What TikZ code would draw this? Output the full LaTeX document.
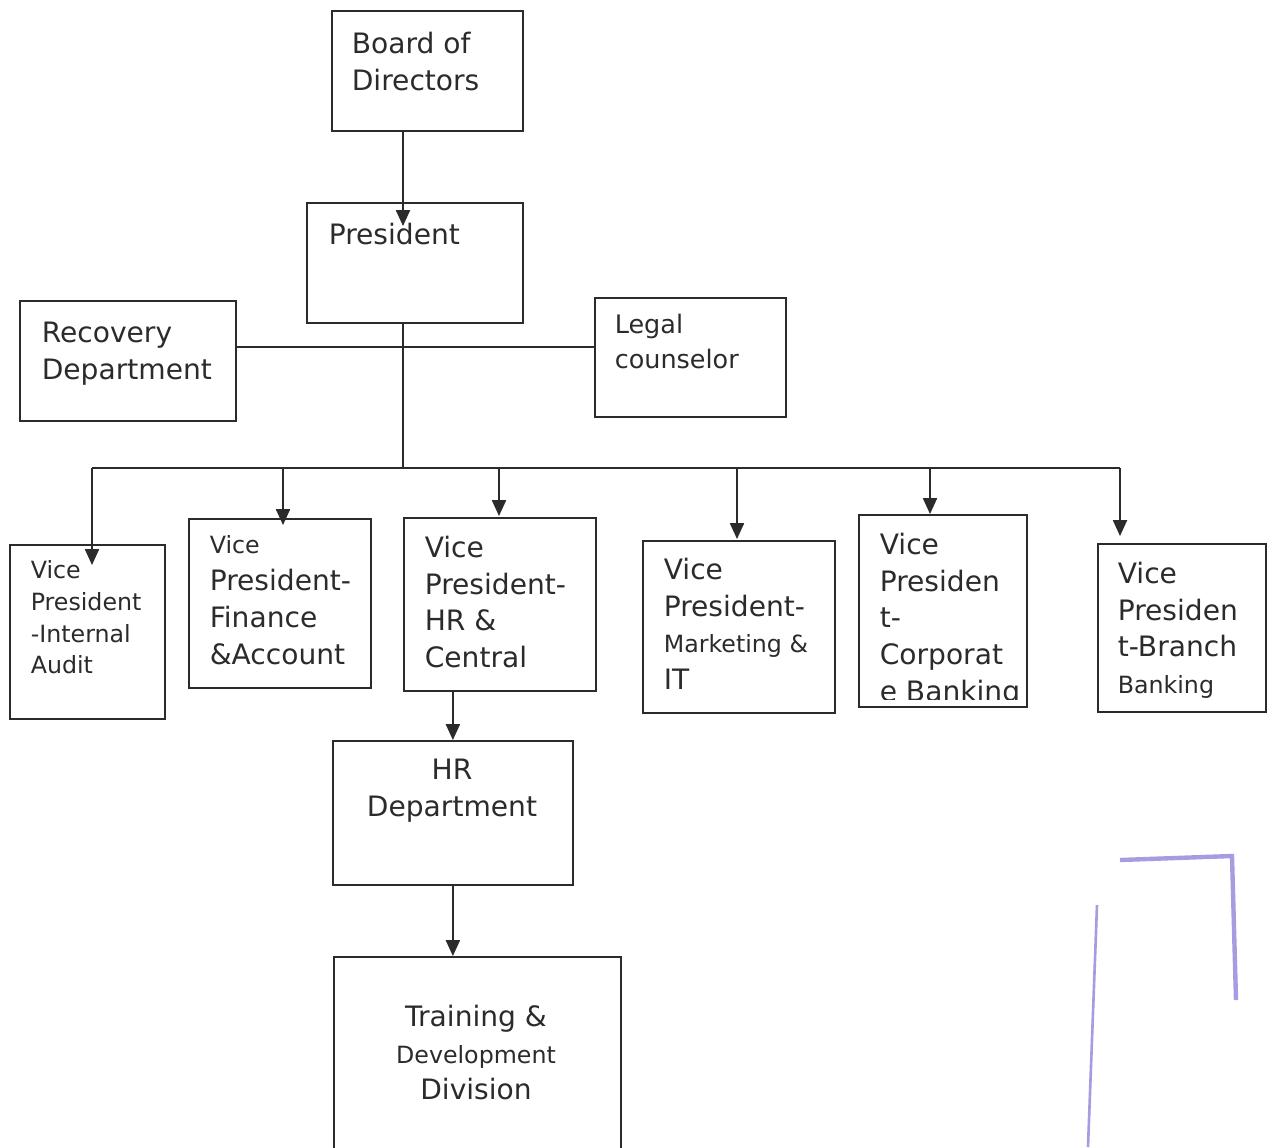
\documentclass[tikz,border=0pt]{standalone}
\usepackage{fontspec}
\setmainfont{DejaVu Sans}
\usetikzlibrary{arrows.meta}
\newcommand\boxfont{\fontsize{16}{21}\selectfont}
\newcommand\boxsmall{\fontsize{13.5}{18}\selectfont}
\definecolor{ink}{HTML}{2B2B2B}
\definecolor{stamp}{HTML}{6A5ACD}
\tikzset{
  box/.style={draw=ink,line width=1pt,anchor=north west,inner sep=0pt},
  sz/.style 2 args={minimum width=#1*0.02cm,minimum height=#2*0.02cm},
  txt/.style={anchor=north west,inner sep=0pt,align=left,text=ink,font=\boxfont},
}
\begin{document}
\begin{tikzpicture}[x=0.02cm,y=-0.02cm,>={Triangle[length=9pt,width=8pt]},line width=0.9pt]
\useasboundingbox (0,0) rectangle (1268,1147);

% boxes
\node[box,sz={191}{120}] (bod)    at (331,10)  {};
\node[box,sz={216}{120}] (pres)   at (306,202) {};
\node[box,sz={216}{120}] (rec)    at (19,300)  {};
\node[box,sz={191}{119}] (legal)  at (594,297) {};
\node[box,sz={155}{174}] (audit)  at (9,544)   {};
\node[box,sz={182}{169}] (fin)    at (188,518) {};
\node[box,sz={192}{173}] (hrc)    at (403,517) {};
\node[box,sz={192}{172}] (mkt)    at (642,540) {};
\node[box,sz={168}{192}] (corp)   at (858,514) {};
\node[box,sz={168}{168}] (branch) at (1097,543) {};
\node[box,sz={240}{144}] (hrd)    at (332,740) {};
\node[box,sz={287}{204}] (train)  at (333,956) {};

% texts
\node[txt] (bod-t)    at (351,31)  {Board of\\Directors};
\node[txt] (pres-t)   at (328,222) {President};
\node[txt] (rec-t)    at (41,321)  {Recovery\\Department};
\node[txt,font=\fontsize{14.5}{20}\selectfont] (legal-t) at (614,313) {Legal\\counselor};
\node[txt,font=\boxsmall] (audit-t) at (30,560) {Vice\\President\\-Internal\\Audit};
\node[txt] (fin-t)    at (209,535) {{\boxsmall Vice}\\President-\\Finance\\\&Account};
\node[txt] (hrc-t)    at (424,535) {Vice\\President-\\HR \&\\Central};
\node[txt] (mkt-t)    at (663,557) {Vice\\President-\\{\boxsmall Marketing \&}\\IT};
\begin{scope}
  \clip (corp.north west) rectangle ([shift={(0,-8)}]corp.south east);
  \node[txt] (corp-t) at (879,532) {Vice\\Presiden\\t-\\Corporat\\e Banking};
\end{scope}
\node[txt] (branch-t) at (1117,561) {Vice\\Presiden\\t-Branch\\{\boxsmall Banking}};
\node[txt,anchor=north,align=center] (hrd-t) at (452,758) {HR\\Department};
\node[txt,anchor=north,align=center] (train-t) at (476,1004) {Training \&\\{\boxsmall Development}\\Division};

% connectors
\coordinate (trunk) at (403,468);
\coordinate (side) at (403,347);
\coordinate (pres-in) at (403,226);
\draw[ink,->] (bod.south -| trunk) -- (pres-in);
\draw[ink] (pres.south -| trunk) -- (trunk);
\draw[ink] (rec.east |- side) -- (legal.west |- side);

\foreach \n/\x/\t in {audit/92/565,fin/283/525,hrc/499/516,mkt/737/539,corp/930/514,branch/1120/536}{
  \coordinate (\n-in) at (\x,\t);
}
\draw[ink] (audit-in |- trunk) -- (branch-in |- trunk);
\foreach \n in {audit,fin,hrc,mkt,corp,branch}
  \draw[ink,->] (\n-in |- trunk) -- (\n-in);

\draw[ink,->] (hrc.south -| hrd.north) -- (hrd.north);
\draw[ink,->] (hrd.south) -- (hrd.south |- train.north);

% stamp
\draw[stamp,line width=1.5pt,opacity=.6] (1097,905) -- (1088,1147);
\draw[stamp,line width=2.5pt,opacity=.6] (1120,860) -- (1232,856) -- (1236,1000);
\end{tikzpicture}
\end{document}
